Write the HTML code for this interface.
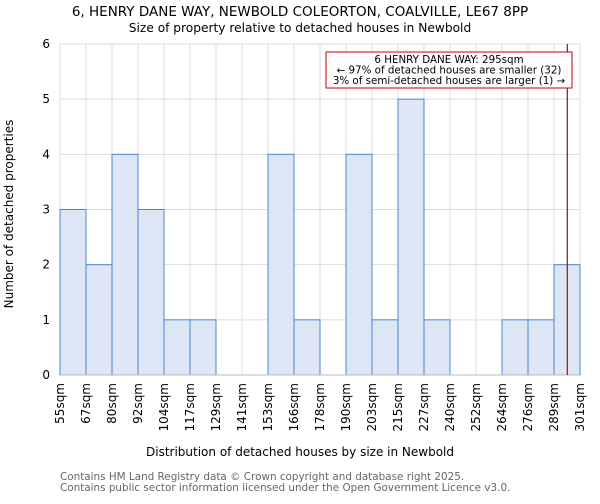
<!DOCTYPE html>
<html><head><meta charset="utf-8"><style>
body{margin:0;background:#fff;font-family:"DejaVu Sans","Liberation Sans",sans-serif}
svg text{font-family:"DejaVu Sans","Liberation Sans",sans-serif}
</style></head><body>
<svg id="c" width="600" height="500">
<text x="300" y="16" text-anchor="middle" font-size="13.5">6, HENRY DANE WAY, NEWBOLD COLEORTON, COALVILLE, LE67 8PP</text>
<text x="300" y="32" text-anchor="middle" font-size="12.2">Size of property relative to detached houses in Newbold</text>
<g id="grid"></g><g id="bars"></g><g id="axes"></g>
<text x="300" y="456" text-anchor="middle" font-size="12">Distribution of detached houses by size in Newbold</text>
<text transform="translate(13,214) rotate(-90)" text-anchor="middle" font-size="12">Number of detached properties</text>
<text x="60" y="480" font-size="10.4" fill="#666">Contains HM Land Registry data © Crown copyright and database right 2025.</text>
<text x="60" y="491" font-size="10.4" fill="#666">Contains public sector information licensed under the Open Government Licence v3.0.</text>
</svg>
<script>
const binLabels=["55sqm","67sqm","80sqm","92sqm","104sqm","117sqm","129sqm","141sqm","153sqm","166sqm","178sqm","190sqm","203sqm","215sqm","227sqm","240sqm","252sqm","264sqm","276sqm","289sqm","301sqm"];
const binEdges=[55,67,80,92,104,117,129,141,153,166,178,190,203,215,227,240,252,264,276,289,301];
const counts=[3,2,4,3,1,1,0,0,4,1,0,4,1,5,1,0,0,1,1,2];
const yTicks=[0,1,2,3,4,5,6];
const propertySize=295;
const X0=60,X1=580,Y0=375,Y1=44,YMAX=6;
const NS="http://www.w3.org/2000/svg";
const xi=i=>X0+i*(X1-X0)/counts.length;
const xv=v=>X0+(v-binEdges[0])/(binEdges[binEdges.length-1]-binEdges[0])*(X1-X0);
const y=v=>Y0-v/YMAX*(Y0-Y1);
function mk(t,a,p){const e=document.createElementNS(NS,t);for(const k in a)e.setAttribute(k,a[k]);p.appendChild(e);return e;}
const grid=document.getElementById('grid'),bars=document.getElementById('bars'),axes=document.getElementById('axes');
for(let i=0;i<binLabels.length;i++){
 const gl=mk('line',{x1:xi(i),x2:xi(i),y1:Y1,y2:Y0,stroke:'#ddd','stroke-width':1},grid);
 
 
 const t=mk('text',{transform:`translate(${xi(i)+4},383) rotate(-90)`,'text-anchor':'end','font-size':12},axes);
 t.textContent=binLabels[i];
 
 
}
yTicks.forEach(v=>{
 const gl=mk('line',{x1:X0,x2:X1,y1:y(v),y2:y(v),stroke:'#ddd','stroke-width':1},grid);
 
 
 const t=mk('text',{x:X0-10,y:y(v)+4,'text-anchor':'end','font-size':12},axes);
 t.textContent=v;
 
 
});
counts.forEach((c,i)=>{
 if(c<=0)return;
 const r=mk('rect',{x:xi(i),y:y(c),width:xi(i+1)-xi(i),height:Y0-y(c),fill:'#dce6f4',stroke:'#4a86d4','stroke-width':1},bars);
 
 
});
const ax=mk('line',{x1:X0,x2:X1,y1:Y0,y2:Y0,stroke:'#bbb','stroke-width':1},axes);


const px=xv(propertySize);
const ml=mk('line',{x1:px,x2:px,y1:Y1,y2:Y0,stroke:'#b00','stroke-width':1.2},axes);


const box=mk('rect',{x:326,y:52,width:246,height:36,fill:'#fff',stroke:'#c00','stroke-width':1},axes);


["6 HENRY DANE WAY: 295sqm","← 97% of detached houses are smaller (32)","3% of semi-detached houses are larger (1) →"].forEach((s,k)=>{
 const t=mk('text',{x:449,y:63+k*10.5,'text-anchor':'middle','font-size':10.3},axes);
 t.textContent=s;
 
 
});
</script>
</body></html>
